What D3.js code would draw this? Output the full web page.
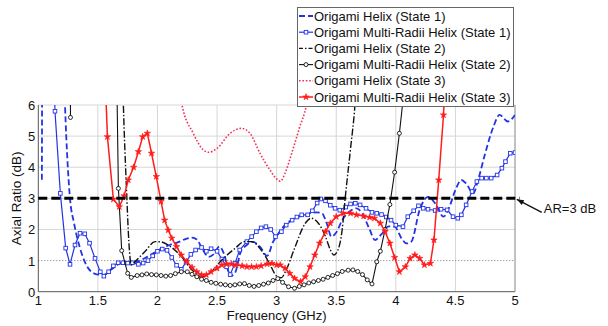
<!DOCTYPE html>
<html><head><meta charset="utf-8">
<script src="https://cdn.jsdelivr.net/npm/d3@7"></script>
<style>
  body { margin: 0; background: #fff; }
  text { font-family: "Liberation Sans", Arial, sans-serif; fill: #111; }
  .grid line { stroke: #d6d6d6; stroke-width: 1; }
</style>
</head>
<body>
<svg id="chart" width="608" height="326"></svg>
<script>

// ---- data: [frequency GHz, axial ratio dB]
const xTicks = [1, 1.5, 2, 2.5, 3, 3.5, 4, 4.5, 5];
const yTicks = [0, 1, 2, 3, 4, 5, 6];

const legendLabels = [
  "Origami Helix (State 1)",
  "Origami Multi-Radii Helix (State 1)",
  "Origami Helix (State 2)",
  "Origami Multi-Radii Helix (State 2)",
  "Origami Helix (State 3)",
  "Origami Multi-Radii Helix (State 3)"
];

const helixState1 = [[1.03,3.6],[1.034,8],[1.12,14],[1.2,9],[1.224,6.0],[1.266,3.0],[1.30,2.2],[1.35,1.4],[1.42,0.75],
  [1.49,0.56],[1.55,0.54],[1.615,0.72],[1.68,0.9],[1.73,0.96],[1.81,0.96],[1.92,1.13],[2.02,1.36],[2.10,1.5],
  [2.18,1.6],[2.24,1.7],[2.29,1.74],[2.33,1.68],[2.38,1.35],[2.43,1.12],[2.47,1.2],[2.52,1.45],[2.56,1.2],
  [2.61,0.5],[2.65,0.6],[2.70,1.3],[2.75,1.5],[2.80,1.6],[2.86,1.45],[2.92,1.15],[2.97,1.6],[3.02,1.9],
  [3.07,2.15],[3.15,2.35],[3.24,2.47],[3.33,2.55],[3.38,2.52],[3.42,2.2],[3.46,1.77],[3.50,1.9],[3.55,2.3],
  [3.62,2.6],[3.67,2.68],[3.72,2.5],[3.78,2.0],[3.825,1.66],[3.88,1.85],[3.94,2.1],[3.99,2.09],[4.05,1.7],
  [4.09,1.55],[4.13,1.61],[4.20,2.63],[4.27,3.05],[4.33,2.84],[4.40,2.41],[4.45,2.73],[4.50,3.27],[4.55,3.59],
  [4.59,3.48],[4.65,3.16],[4.69,3.59],[4.75,4.45],[4.82,5.31],[4.87,5.68],[4.94,5.47],[5.0,5.68]];

const multiRadiiState1 = [[1.10,12],[1.14,5.8],[1.185,3.16],[1.23,1.40],[1.266,0.88],[1.308,1.50],[1.35,1.88],
  [1.39,1.86],[1.43,1.56],[1.476,1.07],[1.52,0.64],[1.55,0.50],[1.59,0.64],[1.63,0.83],[1.67,0.93],[1.71,0.93],
  [1.75,0.92],[1.79,0.93],[1.84,0.88],[1.88,0.92],[1.92,1.0],[1.96,1.15],[2.0,1.3],[2.04,1.37],[2.08,1.33],
  [2.12,1.1],[2.16,0.85],[2.20,0.72],[2.24,0.95],[2.28,1.2],[2.32,1.34],[2.37,1.42],[2.41,1.3],[2.45,1.38],
  [2.50,1.3],[2.54,1.05],[2.58,0.8],[2.61,0.55],[2.65,0.91],[2.69,1.34],[2.75,1.61],[2.79,1.77],[2.83,1.93],
  [2.87,2.05],[2.91,2.09],[2.95,2.0],[2.99,1.77],[3.04,1.93],[3.08,2.14],[3.13,2.30],[3.17,2.4],[3.21,2.47],
  [3.26,2.47],[3.30,2.6],[3.34,2.85],[3.37,2.98],[3.41,2.92],[3.45,2.78],[3.49,2.68],[3.53,2.62],[3.58,2.72],
  [3.62,2.82],[3.66,2.84],[3.70,2.79],[3.75,2.68],[3.80,2.55],[3.84,2.52],[3.88,2.48],[3.92,2.4],[3.96,2.3],
  [4.00,2.14],[4.06,2.09],[4.10,2.41],[4.15,2.6],[4.19,2.76],[4.23,2.68],[4.27,2.65],[4.33,2.61],[4.38,2.65],
  [4.43,2.63],[4.48,2.41],[4.52,2.36],[4.55,2.47],[4.59,2.79],[4.64,3.22],[4.68,3.54],[4.72,3.65],[4.76,3.65],
  [4.80,3.65],[4.85,3.75],[4.89,3.97],[4.92,4.18],[4.96,4.45],[5.0,4.47]];

const helixState2 = [[1.68,12],[1.714,6.0],[1.74,3.3],[1.76,1.6],[1.78,0.86],[1.82,1.0],[1.895,1.29],[1.98,1.61],
  [2.03,1.6],[2.09,1.5],[2.20,1.13],[2.29,0.70],[2.37,0.48],[2.45,0.64],[2.54,1.02],[2.65,1.39],[2.73,1.61],
  [2.79,1.61],[2.87,1.34],[2.94,0.91],[3.0,0.5],[3.04,0.45],[3.08,0.7],[3.15,1.39],[3.24,2.2],[3.29,2.36],
  [3.35,2.2],[3.41,1.77],[3.45,1.35],[3.48,1.18],[3.51,1.3],[3.55,2.0],[3.575,3.0],[3.62,4.6],[3.657,6.0],[3.70,9]];

const multiRadiiState2 = [[1.265,30],[1.27,5.6],[1.275,30],[1.62,30],[1.658,7],[1.672,3.32],[1.70,1.32],[1.75,0.59],
  [1.78,0.46],[1.83,0.52],[1.87,0.54],[1.91,0.57],[1.95,0.55],[1.99,0.54],[2.03,0.52],[2.07,0.5],[2.11,0.52],
  [2.15,0.58],[2.20,0.64],[2.25,0.64],[2.29,0.56],[2.33,0.48],[2.37,0.40],[2.41,0.36],[2.45,0.3],[2.49,0.27],
  [2.53,0.24],[2.57,0.22],[2.61,0.2],[2.65,0.22],[2.69,0.25],[2.73,0.26],[2.77,0.2],[2.81,0.17],[2.85,0.2],
  [2.89,0.24],[2.93,0.28],[2.97,0.36],[3.01,0.42],[3.05,0.3],[3.10,0.16],[3.15,0.11],[3.19,0.17],[3.23,0.22],
  [3.27,0.28],[3.31,0.32],[3.35,0.36],[3.39,0.40],[3.43,0.46],[3.47,0.52],[3.51,0.58],[3.55,0.65],[3.60,0.69],
  [3.64,0.70],[3.68,0.65],[3.72,0.55],[3.76,0.38],[3.80,0.25],[3.84,0.96],[3.87,1.3],[3.91,2.0],[3.95,2.8],
  [3.99,3.84],[4.03,5.09],[4.07,6.5],[4.1,9]];

const helixState3 = [[2.1,10],[2.203,6.06],[2.30,5.09],[2.384,4.56],[2.43,4.48],[2.50,4.61],[2.61,5.09],
  [2.706,5.25],[2.776,5.09],[2.86,4.45],[2.944,3.91],[3.01,3.59],[3.03,3.55],[3.07,3.8],[3.11,4.25],[3.19,5.25],
  [3.25,6.0],[3.35,9]];

const multiRadiiState3 = [[1.54,9],[1.58,4.98],[1.63,2.97],[1.68,2.73],[1.72,3.08],[1.755,3.59],[1.80,4.0],
  [1.84,4.5],[1.876,4.98],[1.915,5.09],[1.95,4.45],[1.99,3.7],[2.03,2.9],[2.06,2.30],[2.09,1.98],[2.12,1.72],
  [2.16,1.45],[2.20,1.18],[2.245,0.97],[2.29,0.78],[2.33,0.64],[2.37,0.54],[2.41,0.54],[2.45,0.64],[2.50,0.75],
  [2.54,0.86],[2.58,0.89],[2.62,0.89],[2.66,0.86],[2.71,0.83],[2.75,0.80],[2.79,0.80],[2.83,0.80],[2.87,0.83],
  [2.92,0.89],[2.96,0.91],[3.0,0.86],[3.03,0.86],[3.07,0.75],[3.11,0.59],[3.15,0.43],[3.20,0.32],[3.24,0.48],
  [3.28,0.80],[3.32,1.18],[3.36,1.56],[3.41,1.93],[3.45,2.2],[3.50,2.41],[3.56,2.52],[3.62,2.52],[3.67,2.47],
  [3.73,2.43],[3.78,2.39],[3.82,2.36],[3.87,2.20],[3.91,1.93],[3.95,1.56],[3.99,1.1],[4.03,0.64],[4.08,0.80],
  [4.12,1.07],[4.16,1.18],[4.20,1.07],[4.24,0.86],[4.29,0.91],[4.32,1.66],[4.36,3.59],[4.40,5.68],[4.43,8]];

const threshold = 3;
const thresholdSpan = [1, 5.04];
const thresholdLabel = "AR=3 dB";

// ---- setup
const svg = d3.select("#chart");
const x = d3.scaleLinear().domain([1, 5]).range([38.3, 515]);
const y = d3.scaleLinear().domain([0, 6]).range([291.7, 105]);
const [x0, x1] = x.range();
const [y0, y1] = y.range();

svg.append("clipPath").attr("id", "plotClip")
   .append("rect").attr("x", x0).attr("y", y1).attr("width", x1 - x0).attr("height", y0 - y1);

// gridlines
svg.append("g").attr("class", "grid")
   .selectAll("line").data(xTicks.slice(1)).join("line")
   .attr("x1", d => x(d)).attr("x2", d => x(d)).attr("y1", y0).attr("y2", y1);
svg.append("g").attr("class", "grid")
   .selectAll("line").data(yTicks.slice(1).filter(d => d != 1)).join("line")
   .attr("x1", x0).attr("x2", x1).attr("y1", d => y(d)).attr("y2", d => y(d));
// the AR = 1 line is darker dotted
svg.append("line")
   .attr("x1", x0).attr("x2", x1).attr("y1", y(1)).attr("y2", y(1))
   .attr("stroke", "#777").attr("stroke-width", 1).attr("stroke-dasharray", "1,2");

// axes
svg.append("line").attr("x1", x0).attr("x2", x0).attr("y1", y0).attr("y2", y1).attr("stroke", "#555");
svg.append("line").attr("x1", x0).attr("x2", x1).attr("y1", y0).attr("y2", y0).attr("stroke", "#555");
svg.append("line").attr("x1", x1).attr("x2", x1).attr("y1", y0).attr("y2", y1).attr("stroke", "#999");

svg.append("g").selectAll("text").data(xTicks).join("text")
   .attr("x", d => x(d)).attr("y", y0 + 13.5)
   .attr("text-anchor", "middle").attr("font-size", 13)
   .text(d => d);
svg.append("g").selectAll("text").data(yTicks).join("text")
   .attr("x", x0 - 3).attr("y", d => y(d) + 5)
   .attr("text-anchor", "end").attr("font-size", 13)
   .text(d => d);

svg.append("text").attr("x", (x0 + x1) / 2).attr("y", y0 + 28.5)
   .attr("text-anchor", "middle").attr("font-size", 13).text("Frequency (GHz)");
svg.append("text").attr("transform", "translate(" + 21 + "," + ((y0 + y1) / 2) + ") rotate(-90)")
   .attr("text-anchor", "middle").attr("font-size", 13.5).text("Axial Ratio (dB)");

// ---- series
const blue = "#2233e6", red = "#ff1c1c", pink = "#f0325a";
const series = [
  {data: helixState1,      color: blue,   width: 1.8, dash: "6,3",       curve: d3.curveMonotoneX, marker: null},
  {data: multiRadiiState1, color: blue,   width: 1.2, dash: null,        curve: d3.curveLinear,    marker: "square"},
  {data: helixState2,      color: "#111", width: 1.4, dash: "7,2,1.5,2", curve: d3.curveMonotoneX, marker: null},
  {data: multiRadiiState2, color: "#111", width: 1.1, dash: null,        curve: d3.curveLinear,    marker: "circle"},
  {data: helixState3,      color: pink,   width: 1.6, dash: "1.6,1.8",   curve: d3.curveMonotoneX, marker: null},
  {data: multiRadiiState3, color: red,    width: 1.5, dash: null,        curve: d3.curveLinear,    marker: "star"}
];

const plot = svg.append("g").attr("clip-path", "url(#plotClip)");

function drawMarker(g, kind, color) {
  if (kind == "square") {
    g.append("rect").attr("x", -1.8).attr("y", -1.8).attr("width", 3.6).attr("height", 3.6)
     .attr("fill", "white").attr("stroke", color).attr("stroke-width", 0.9);
  } else if (kind == "circle") {
    g.append("circle").attr("r", 2).attr("fill", "white").attr("stroke", color).attr("stroke-width", 0.9);
  } else if (kind == "star") {
    g.append("path").attr("d", d3.symbol(d3.symbolStar, 13)()).attr("fill", color)
     .attr("stroke", color).attr("stroke-width", 0.6);
  }
}

series.forEach(s => {
  const line = d3.line().x(d => x(d[0])).y(d => y(d[1])).curve(s.curve);
  plot.append("path").datum(s.data)
      .attr("d", line)
      .attr("fill", "none")
      .attr("stroke", s.color)
      .attr("stroke-width", s.width)
      .attr("stroke-dasharray", s.dash);
  if (s.marker) {
    plot.append("g").selectAll("g").data(s.data.filter(d => d[1] < 6.3)).join("g")
        .attr("transform", d => "translate(" + x(d[0]) + "," + y(d[1]) + ")")
        .each(function() { drawMarker(d3.select(this), s.marker, s.color); });
  }
});

// ---- AR = 3 dB threshold and its note
svg.append("line")
   .attr("x1", x(thresholdSpan[0])).attr("x2", x(thresholdSpan[1]))
   .attr("y1", y(threshold)).attr("y2", y(threshold))
   .attr("stroke", "#000").attr("stroke-width", 3).attr("stroke-dasharray", "9,4");

const arrowTip = [x(thresholdSpan[1]) - 3, y(threshold) + 1];
const arrowTail = [arrowTip[0] + 25, arrowTip[1] + 13];
svg.append("line")
   .attr("x1", arrowTail[0]).attr("y1", arrowTail[1]).attr("x2", arrowTip[0]).attr("y2", arrowTip[1])
   .attr("stroke", "#111").attr("stroke-width", 1.2);
const ang = Math.atan2(arrowTail[1] - arrowTip[1], arrowTail[0] - arrowTip[0]);
const head = [[0, 0], [7, -2.6], [7, 2.6]].map(p => [
  arrowTip[0] + p[0] * Math.cos(ang) - p[1] * Math.sin(ang),
  arrowTip[1] + p[0] * Math.sin(ang) + p[1] * Math.cos(ang)]);
svg.append("path").attr("d", "M" + head.join("L") + "Z").attr("fill", "#111");
svg.append("text").attr("x", arrowTail[0] + 2).attr("y", arrowTail[1] + 1)
   .attr("font-size", 13).text(thresholdLabel);

// ---- legend
const legend = svg.append("g");
legend.append("rect").attr("x", 297.5).attr("y", 7.5).attr("width", 216).attr("height", 99)
      .attr("fill", "white").attr("stroke", "#666").attr("stroke-width", 1);
series.forEach((s, i) => {
  const ry = 16 + i * 16.2;
  legend.append("line").attr("x1", 299).attr("x2", 313).attr("y1", ry).attr("y2", ry)
        .attr("stroke", s.color).attr("stroke-width", s.width)
        .attr("stroke-dasharray", s.dash ? (s.marker == null && s.color == "#111" ? "4,2,1.5,2" : s.dash) : null);
  if (s.marker) drawMarker(legend.append("g").attr("transform", "translate(306," + ry + ")"), s.marker, s.color);
  legend.append("text").attr("x", 314).attr("y", ry + 4.5).attr("font-size", 13).text(legendLabels[i]);
});

</script>
</body></html>
